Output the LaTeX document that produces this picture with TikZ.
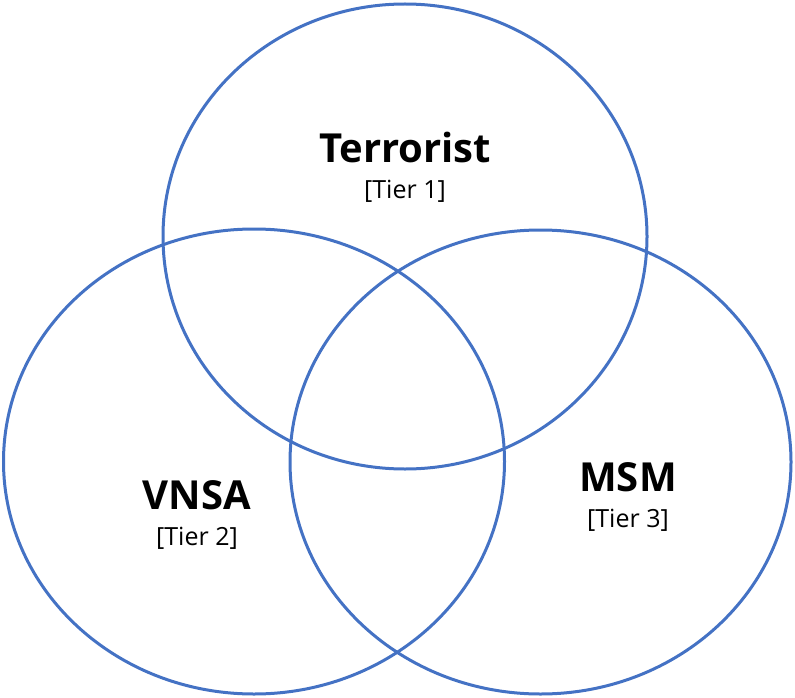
\documentclass[tikz,border=0pt]{standalone}
\usepackage{fontspec}
\setmainfont{Open Sans}
\definecolor{ring}{HTML}{4472C4}
\begin{document}
\begin{tikzpicture}[x=1pt,y=-1pt,
  ring/.style={draw=ring,line width=3pt},
  big/.style={font=\fontsize{40}{46}\selectfont\bfseries,anchor=base,inner sep=0pt},
  small/.style={font=\fontsize{25}{30}\selectfont,anchor=base,inner sep=0pt}]
\useasboundingbox (0,0) rectangle (795,698);
\draw[ring] (405,236.5) ellipse [x radius=242, y radius=232.5];
\draw[ring] (254,461.5) ellipse [x radius=250.5, y radius=232.5];
\draw[ring] (540.5,462) ellipse [x radius=250.5, y radius=232];
\node[big] (t) at (405,163) {Terrorist};
\node[small] (t1) at (405,198) {[Tier 1]};
\node[big] (v) at (197,509) {VNSA};
\node[small] (v2) at (197,545) {[Tier 2]};
\node[big] (m) at (628,491) {MSM};
\node[small] (m3) at (628,527) {[Tier 3]};
\end{tikzpicture}
\end{document}
